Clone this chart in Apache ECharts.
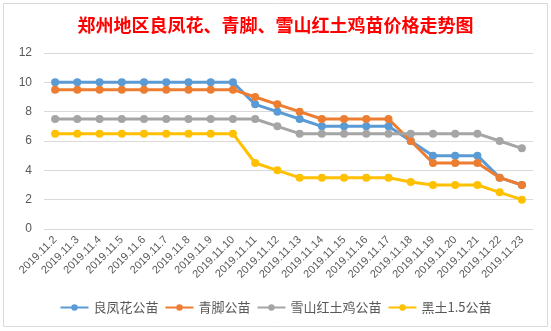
<!DOCTYPE html>
<html><head><meta charset="utf-8">
<script src="https://cdn.jsdelivr.net/npm/echarts@6/dist/echarts.min.js"></script>
<style>html,body{margin:0;padding:0;background:#fff}#c{width:551px;height:331px}</style>
</head><body><div id="c"></div>
<script>
const categories = ["2019.11.2","2019.11.3","2019.11.4","2019.11.5","2019.11.6","2019.11.7","2019.11.8","2019.11.9","2019.11.10","2019.11.11","2019.11.12","2019.11.13","2019.11.14","2019.11.15","2019.11.16","2019.11.17","2019.11.18","2019.11.19","2019.11.20","2019.11.21","2019.11.22","2019.11.23"];
const liangfenghua = [10,10,10,10,10,10,10,10,10,8.5,8,7.5,7,7,7,7,6,5,5,5,3.5,3];
const qingjiao = [9.5,9.5,9.5,9.5,9.5,9.5,9.5,9.5,9.5,9,8.5,8,7.5,7.5,7.5,7.5,6,4.5,4.5,4.5,3.5,3];
const xueshan = [7.5,7.5,7.5,7.5,7.5,7.5,7.5,7.5,7.5,7.5,7,6.5,6.5,6.5,6.5,6.5,6.5,6.5,6.5,6.5,6,5.5];
const heitu = [6.5,6.5,6.5,6.5,6.5,6.5,6.5,6.5,6.5,4.5,4,3.5,3.5,3.5,3.5,3.5,3.2,3,3,3,2.5,2];
const seriesNames = ["良凤花公苗","青脚公苗","雪山红土鸡公苗","黑土1.5公苗"];
const colors = ["#5B9BD5","#ED7D31","#A5A5A5","#FFC000"];
const dataSets = [liangfenghua, qingjiao, xueshan, heitu];

const chart = echarts.init(document.getElementById('c'));
chart.setOption({
  animation:false,
  color: colors,
  title:{text:"郑州地区良凤花、青脚、雪山红土鸡苗价格走势图", left:'center', top:11,
    textStyle:{color:'#FF0000', fontSize:18, fontWeight:'bold', fontFamily:'Noto Sans CJK SC'}},
  graphic:[{type:'rect', shape:{x:3.5,y:3.5,width:544,height:323}, style:{fill:'none', stroke:'#D9D9D9', lineWidth:1}}],
  legend:{bottom:12, left:'center', itemWidth:28, itemHeight:8, itemGap:6,
    textStyle:{color:'#595959', fontSize:13, fontFamily:'Noto Sans CJK SC'},
    data: seriesNames},
  grid:{left:44, right:18, top:53, bottom:102, containLabel:false},
  xAxis:{type:'category', data:categories, boundaryGap:true,
    axisLine:{show:false}, axisTick:{show:false},
    axisLabel:{rotate:45, interval:0, color:'#595959', fontSize:11, fontFamily:'Liberation Sans', margin:9}},
  yAxis:{type:'value', min:0, max:12, interval:2,
    axisLine:{show:false}, axisTick:{show:false},
    axisLabel:{color:'#595959', fontSize:12, fontFamily:'Liberation Sans', margin:12},
    splitLine:{lineStyle:{color:'#D9D9D9', width:1}}},
  series: dataSets.map((d,i)=>({
    name: seriesNames[i], type:'line', data:d, symbol:'circle', symbolSize:8,
    lineStyle:{width:3, color:colors[i]}, itemStyle:{color:colors[i]}
  }))
});
</script></body></html>
